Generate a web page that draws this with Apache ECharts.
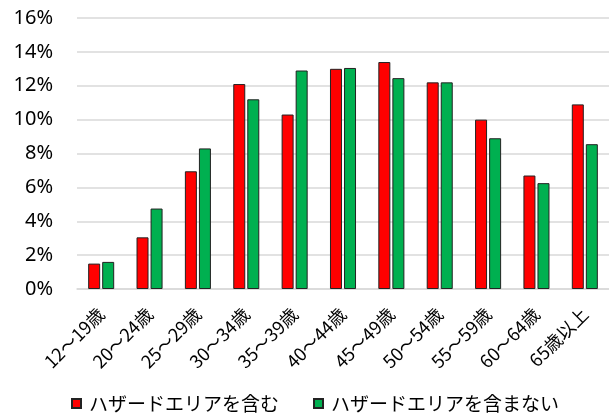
<!DOCTYPE html>
<html>
<head>
<meta charset="utf-8">
<script src="https://cdn.jsdelivr.net/npm/echarts@6/dist/echarts.min.js"></script>
<style>
  html, body { margin: 0; padding: 0; background: #fff; }
  #chart { width: 609px; height: 418px; }
</style>
</head>
<body>
<div id="chart"></div>
<script>
var ageGroups = ['12～19歳', '20～24歳', '25～29歳', '30～34歳', '35～39歳', '40～44歳',
  '45～49歳', '50～54歳', '55～59歳', '60～64歳', '65歳以上'];
var seriesNames = ['ハザードエリアを含む', 'ハザードエリアを含まない'];
var withHazard = [1.5, 3.05, 6.95, 12.1, 10.3, 13.0, 13.4, 12.2, 10.0, 6.7, 10.9];
var withoutHazard = [1.6, 4.75, 8.3, 11.2, 12.9, 13.05, 12.45, 12.2, 8.9, 6.25, 8.55];
var seriesColors = ['#ff0000', '#00b050'];

var chart = echarts.init(document.getElementById('chart'));

var option = {
  animation: false,
  backgroundColor: '#fff',
  grid: {
    top: 18,
    left: 77,
    right: 0,
    bottom: 129
  },
  legend: {
    bottom: 0,
    left: 66,
    itemWidth: 9,
    itemHeight: 9,
    itemGap: 34,
    icon: 'rect',
    data: seriesNames,
    textStyle: {
      fontFamily: 'Noto Sans CJK JP',
      fontSize: 19,
      color: '#000',
      padding: [0, 0, 0, 3]
    }
  },
  xAxis: {
    type: 'category',
    data: ageGroups,
    axisLine: { lineStyle: { color: '#d9d9d9', width: 1.5 } },
    axisTick: { show: false },
    axisLabel: {
      interval: 0,
      rotate: 45,
      margin: 22,
      fontFamily: 'Noto Sans CJK JP',
      fontSize: 18,
      color: '#000'
    }
  },
  yAxis: {
    type: 'value',
    min: 0,
    max: 16,
    interval: 2,
    axisLine: { show: false },
    axisTick: { show: false },
    splitLine: { lineStyle: { color: '#d9d9d9', width: 1.5 } },
    axisLabel: {
      formatter: '{value}%',
      margin: 24,
      fontFamily: 'Noto Sans',
      fontSize: 20,
      color: '#000'
    }
  },
  series: [
    {
      name: seriesNames[0],
      type: 'bar',
      data: withHazard,
      barWidth: 12,
      barGap: '17%',
      itemStyle: { color: seriesColors[0], borderColor: '#222', borderWidth: 1 }
    },
    {
      name: seriesNames[1],
      type: 'bar',
      data: withoutHazard,
      barWidth: 12,
      barGap: '17%',
      itemStyle: { color: seriesColors[1], borderColor: '#222', borderWidth: 1 }
    }
  ]
};

chart.setOption(option);
</script>
</body>
</html>
